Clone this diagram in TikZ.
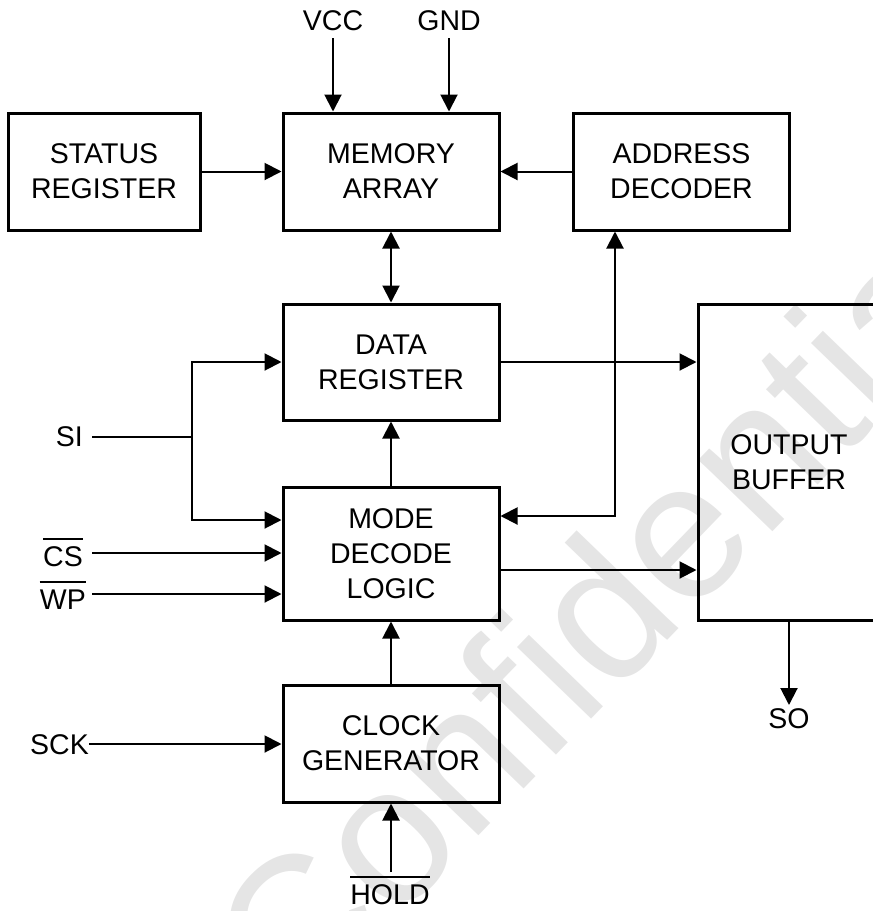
\documentclass[tikz,border=0pt]{standalone}
\usepackage{fontspec}
\setmainfont{Liberation Sans}
\usetikzlibrary{arrows.meta}
\begin{document}
\begin{tikzpicture}[x=1pt,y=-1pt,
  blk/.style={draw, line width=3pt, inner sep=0pt, align=center, font=\fontsize{28.5}{35}\selectfont},
  lbl/.style={inner sep=0pt, font=\fontsize{28.5}{35}\selectfont},
  conn/.style={line width=2pt},
  arr/.style={conn, -{Triangle[length=17pt,width=17pt]}},
  barr/.style={conn, {Triangle[length=17pt,width=17pt]}-{Triangle[length=17pt,width=17pt]}},
  ovl/.style={line width=1.8pt},
  wm/.style={text=black!10, font=\fontsize{195}{195}\selectfont, inner sep=0pt}
]
\useasboundingbox (0,0) rectangle (873,911);
\clip (0,0) rectangle (873,911);
\node[wm, rotate=46] (wmark) at (604,606) {Confidential};

% blocks
\node[blk, minimum width=192pt, minimum height=117pt] (status) at (104,171.5) {STATUS\\REGISTER};
\node[blk, minimum width=216pt, minimum height=117pt] (mem) at (391,171.5) {MEMORY\\ARRAY};
\node[blk, minimum width=216pt, minimum height=117pt] (addr) at (681.5,171.5) {ADDRESS\\DECODER};
\node[blk, minimum width=216pt, minimum height=116pt] (data) at (391,362) {DATA\\REGISTER};
\node[blk, minimum width=216pt, minimum height=133pt] (mode) at (391,553.5) {MODE\\DECODE\\LOGIC};
\node[blk, minimum width=216pt, minimum height=117pt] (clk) at (391,743.5) {CLOCK\\GENERATOR};
\node[blk, minimum width=182pt, minimum height=316pt] (out) at (789,462) {OUTPUT\\BUFFER};

% labels
\node[lbl] (vcc) at (333,21) {VCC};
\node[lbl] (gnd) at (449,21) {GND};
\node[lbl, anchor=east] (si) at (83,437) {SI};
\node[lbl, anchor=east] (cs) at (83,557) {CS};
\node[lbl, anchor=east] (wp) at (86,600) {WP};
\node[lbl, anchor=east] (sck) at (89,745) {SCK};
\node[lbl] (hold) at (390,895) {HOLD};
\node[lbl] (so) at (789,719) {SO};
\draw[ovl] ([yshift=8pt]cs.north west) -- ([yshift=8pt]cs.north east);
\draw[ovl] ([yshift=8pt]wp.north west) -- ([yshift=8pt]wp.north east);
\draw[ovl] ([yshift=8pt]hold.north west) -- ([yshift=8pt]hold.north east);

% free ends
\coordinate (vccE) at (333,38);
\coordinate (gndE) at (449,38);
\coordinate (siE) at (92,437);
\coordinate (jn) at (192,437);
\coordinate (siM) at (192,520);
\coordinate (csE) at (92,553);
\coordinate (wpE) at (92,594);
\coordinate (turn) at (615,516);
\coordinate (mo) at (600,570);
\coordinate (sckE) at (89,744);
\coordinate (holdE) at (391,872);
\coordinate (soE) at (789,705);

% connectors
\draw[arr] (vccE) -- (vccE |- mem.north);
\draw[arr] (gndE) -- (gndE |- mem.north);
\draw[arr] (status) -- (mem);
\draw[arr] (addr) -- (mem);
\draw[barr] (mem) -- (data);
\draw[arr] (data) -- (data -| out.west);
\draw[conn] (siE) -- (jn);
\draw[arr] (jn) |- (data.west);
\draw[arr] (jn) |- (siM -| mode.west);
\draw[arr] (csE) -- (csE -| mode.west);
\draw[arr] (wpE) -- (wpE -| mode.west);
\draw[barr] (turn -| mode.east) -| (turn |- addr.south);
\draw[arr] (mo -| mode.east) -- (mo -| out.west);
\draw[arr] (mode) -- (data);
\draw[arr] (clk) -- (mode);
\draw[arr] (sckE) -- (sckE -| clk.west);
\draw[arr] (holdE) -- (holdE |- clk.south);
\draw[arr] (soE |- out.south) -- (soE);
\end{tikzpicture}
\end{document}
